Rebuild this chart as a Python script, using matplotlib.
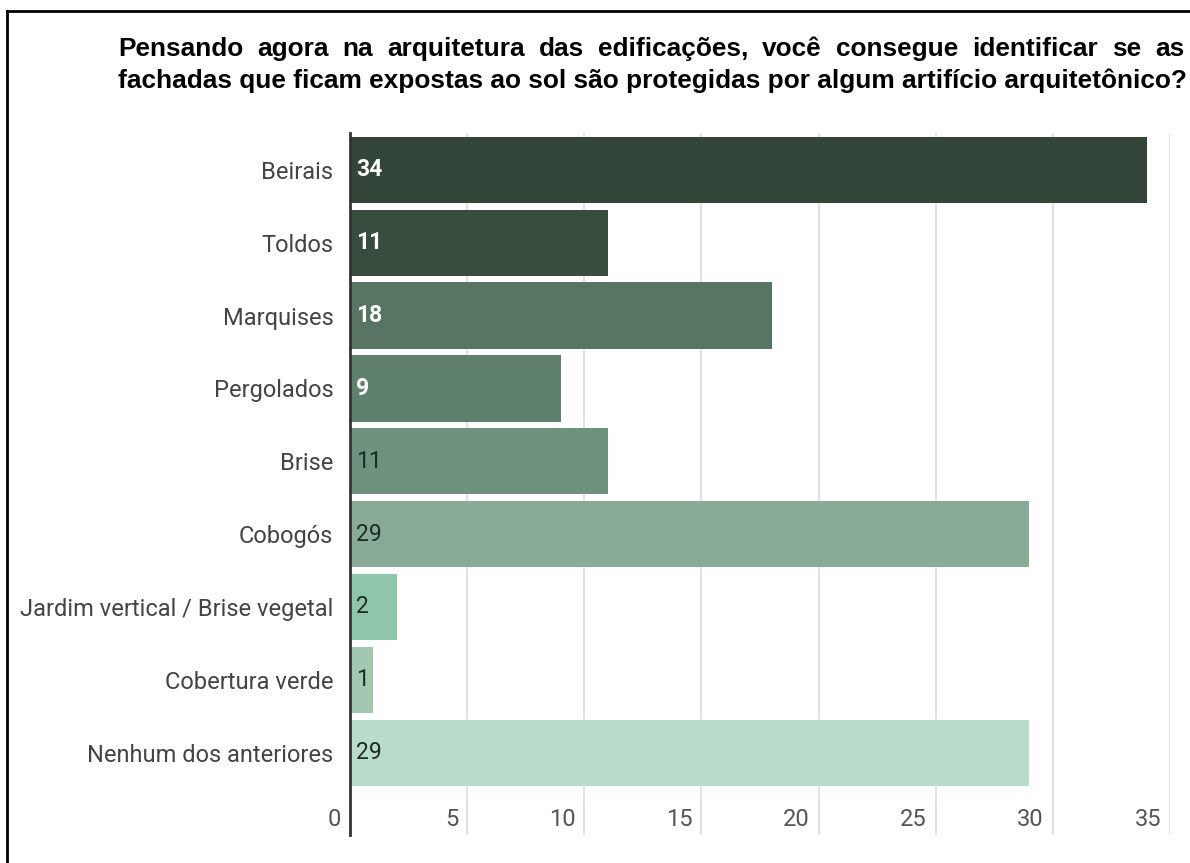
import matplotlib
matplotlib.use("Agg")
import matplotlib.pyplot as plt
from matplotlib.transforms import IdentityTransform, blended_transform_factory, offset_copy
from matplotlib.lines import Line2D

# ---- data ----
categories = ["Beirais", "Toldos", "Marquises", "Pergolados", "Brise", "Cobogós",
              "Jardim vertical / Brise vegetal", "Cobertura verde", "Nenhum dos anteriores"]
values = [34, 11, 18, 9, 11, 29, 2, 1, 29]
tick_values = [0, 5, 10, 15, 20, 25, 30, 35]
bar_colors = ["#324538", "#394d3f", "#587462", "#5f806c", "#6f927f", "#88aa97",
              "#8fc5a8", "#a2c8b2", "#b9dcca"]
label_colors = ["white", "white", "white", "white", "#1c2c22", "#1c2c22",
                "#1c2c22", "#1c2c22", "#1c2c22"]
label_weights = ["bold", "bold", "bold", "bold", "normal", "normal",
                 "normal", "normal", "normal"]
title_line1 = "Pensando agora na arquitetura das edificações, você consegue identificar se as"
title_line2 = "fachadas que ficam expostas ao sol são protegidas por algum artifício arquitetônico?"

W, H = 1190, 863
fig = plt.figure(figsize=(W / 100, H / 100), dpi=100)
fig.patch.set_facecolor("white")

# axes placement (pixels)
ax_left, ax_right, ax_top, ax_bottom = 350, 1170, 133.5, 835
ax = fig.add_axes([ax_left / W, (H - ax_bottom) / H, (ax_right - ax_left) / W, (ax_bottom - ax_top) / H])

n = len(categories)
ypos = list(range(n))
ax.barh(ypos, values, height=0.91, color=bar_colors, zorder=2)
ax.set_xlim(0, 35)
ax.set_ylim(n - 0.5 + 0.63, -0.5)

for x in tick_values[1:]:
    ax.axvline(x, color="#dcdcdc", lw=1.2, zorder=1)

for s in ["top", "right", "bottom"]:
    ax.spines[s].set_visible(False)
ax.spines["left"].set_color("#333333")
ax.spines["left"].set_linewidth(2)
ax.spines["left"].set_zorder(3)

ax.set_xticks([])
ax.set_yticks(ypos)
ax.set_yticklabels(categories, fontfamily="Roboto", fontsize=17, color="#444444")
ax.tick_params(axis="y", length=0, pad=12)

# value labels
for y, v, c, w in zip(ypos, values, label_colors, label_weights):
    tr = offset_copy(ax.transData, fig=fig, x=6, y=0, units="dots")
    ax.text(0, y, str(v), transform=tr, ha="left", va="center", fontfamily="Roboto",
            fontsize=16.5, color=c, fontweight=w, zorder=4)

# x tick labels inside the plot area, right-aligned left of gridlines
btr = blended_transform_factory(ax.transData, ax.transAxes)
btr = offset_copy(btr, fig=fig, x=-9, y=0, units="dots")
for t in tick_values:
    ax.text(t, (ax_bottom - 819) / (ax_bottom - ax_top), str(t), transform=btr, ha="right",
            va="center", fontfamily="Roboto", fontsize=17, color="#555555")

# frame lines
fig.add_artist(Line2D([7, 7], [0, H - 11], transform=IdentityTransform(), color="black", lw=2))
fig.add_artist(Line2D([7, W], [H - 11, H - 11], transform=IdentityTransform(), color="black", lw=2))

# title, justified
fig.canvas.draw()
renderer = fig.canvas.get_renderer()
x0, x1 = 118, 1184
target = x1 - x0
fp = dict(fontfamily="Liberation Sans", fontweight="bold", color="black")
probe = fig.text(0, 0, title_line2, transform=IdentityTransform(), fontsize=16, **fp)
w16 = probe.get_window_extent(renderer).width
probe.remove()
fs = 16 * target / w16
fig.text(x0, H - 88, title_line2, transform=IdentityTransform(), fontsize=fs, va="baseline", **fp)
words = title_line1.split(" ")
widths = []
for wd in words:
    t = fig.text(0, 0, wd, transform=IdentityTransform(), fontsize=fs, **fp)
    widths.append(t.get_window_extent(renderer).width)
    t.remove()
gap = (target - sum(widths)) / (len(words) - 1)
xc = x0
for wd, wdt in zip(words, widths):
    fig.text(xc, H - 56, wd, transform=IdentityTransform(), fontsize=fs, va="baseline", **fp)
    xc += wdt + gap

fig.savefig("out.png", dpi=100)
